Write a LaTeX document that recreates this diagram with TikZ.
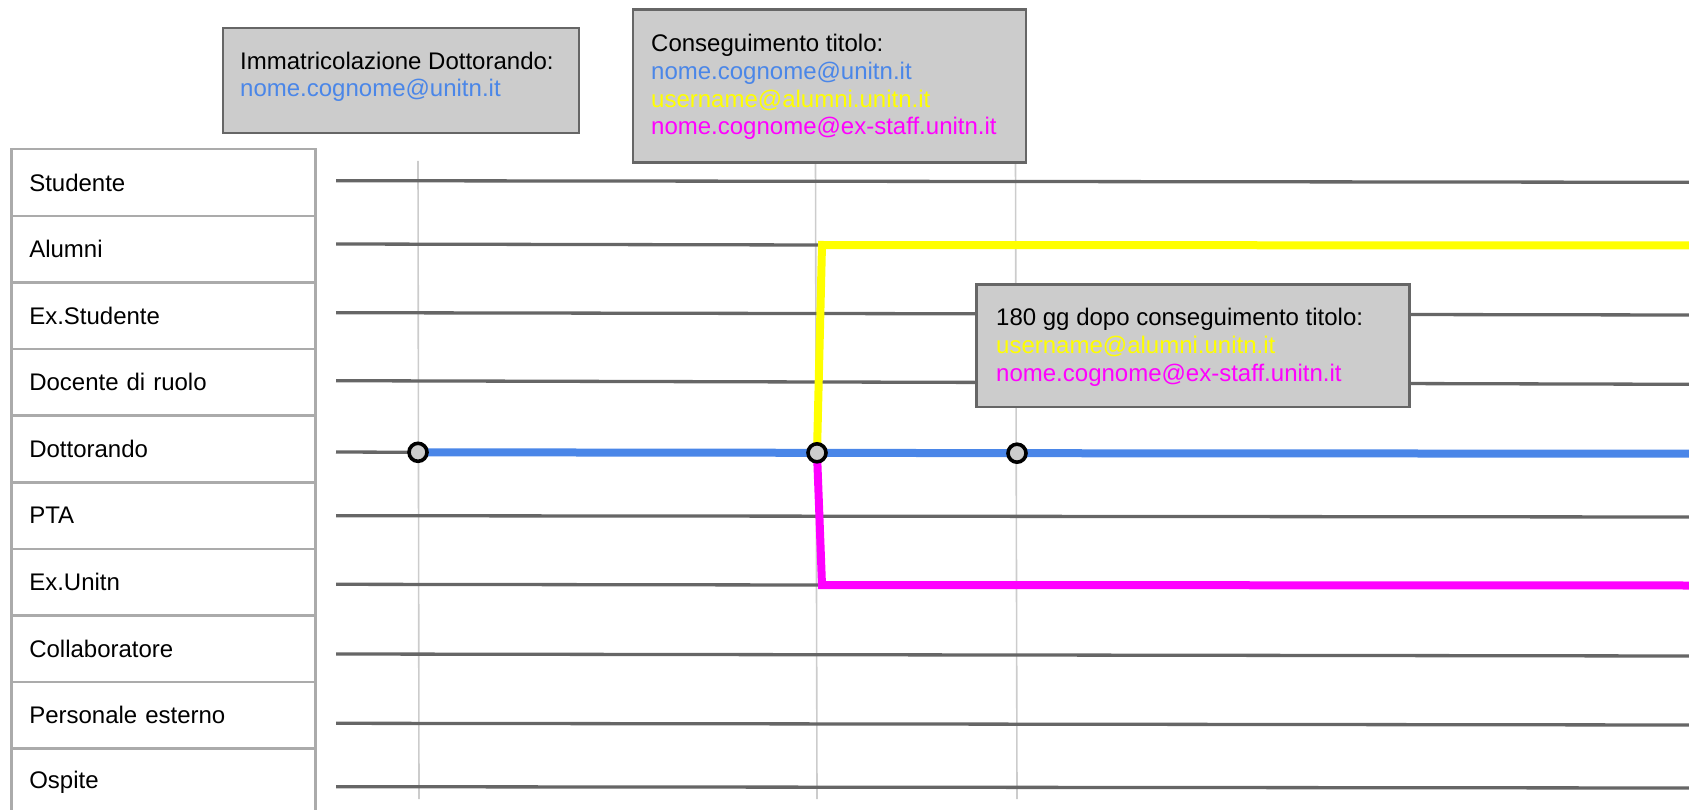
\documentclass[tikz,border=0pt]{standalone}
\usepackage{fontspec}
\setmainfont{Liberation Sans}
\definecolor{lanegray}{HTML}{666666}
\definecolor{tablegray}{HTML}{ABABAB}
\definecolor{thingray}{HTML}{CCCCCC}
\definecolor{boxfill}{HTML}{CCCCCC}
\definecolor{boxline}{HTML}{666666}
\definecolor{mblue}{HTML}{4A86E8}
\definecolor{myellow}{HTML}{FFFF00}
\definecolor{mmagenta}{HTML}{FF00FF}
\begin{document}
\begin{tikzpicture}[x=1pt,y=-1pt,
  txt/.style={font=\fontsize{24}{28}\selectfont, inner sep=0pt, anchor=base west},
  cell/.style={draw=tablegray, line width=2.5pt, minimum width=304pt, minimum height=66.6pt,
    anchor=north west, text width=268pt, align=left, inner xsep=18pt, inner ysep=0pt,
    font=\fontsize{24}{28}\selectfont},
  gbox/.style={draw=boxline, fill=boxfill, line width=2.5pt, inner sep=0pt},
  lane/.style={draw=lanegray, line width=3.3pt},
  thin/.style={draw=thingray, line width=1.6pt},
  fat/.style={line width=8pt},
  dot/.style={circle, draw=black, fill=boxfill, line width=3.6pt, minimum size=18pt, inner sep=0pt}
]
\useasboundingbox (0,0) rectangle (1689,810);

% table rows
\foreach \k/\t in {0/Studente,1/Alumni,2/Ex.Studente,3/Docente di ruolo,4/Dottorando,5/PTA,6/Ex.Unitn,7/Collaboratore,8/Personale esterno,9/Ospite}{
  \node[cell] (r\k) at (10,{148+66.6*\k}) {\t};
}

% thin vertical time markers
\coordinate (v1t) at (418,161);   \coordinate (v1b) at (419,799);
\coordinate (v2t) at (815.5,161); \coordinate (v2b) at (817,799);
\coordinate (v3t) at (1015.5,161);\coordinate (v3b) at (1017,799);
\draw[thin] (v1t) -- (v1b);
\draw[thin] (v2t) -- (v2b);
\draw[thin] (v3t) -- (v3b);

% event positions
\coordinate (p1) at (418,452.3);
\coordinate (p2) at (817,452.8);
\coordinate (p3) at (1017,453.2);
\coordinate (ycorner) at (822,245);
\coordinate (mcorner) at (822,585);
\coordinate (yend) at (1689,245.5);
\coordinate (mend) at (1689,585.5);
\coordinate (bend) at (1689,453.7);

% gray lanes
\draw[lane] (336,180.7) -- (1689,182.3);
\draw[lane] (336,244) -- (ycorner);
\draw[lane] (336,312.7) -- (1689,315);
\draw[lane] (336,380.7) -- (1689,384.3);
\draw[lane] (336,452) -- (p1);
\draw[lane] (336,515.7) -- (1689,517);
\draw[lane] (336,584.3) -- (mcorner);
\draw[lane] (336,654) -- (1689,656);
\draw[lane] (336,723.3) -- (1689,725);
\draw[lane] (336,786.7) -- (1689,788);

% coloured paths
\draw[fat, mblue] (p1) -- (p2) -- (p3) -- (bend);
\draw[fat, myellow, line join=miter] (p2) -- (ycorner) -- (yend);
\draw[fat, mmagenta, line join=miter] (p2) -- (mcorner) -- (mend);

\node[dot] (c1) at (p1) {};
\node[dot] (c2) at (p2) {};
\node[dot] (c3) at (p3) {};

% boxes
\node[gbox, minimum width=356pt, minimum height=105pt] (box1) at (401,80.5) {};
\node[txt] (b1l1) at (240,70) {Immatricolazione Dottorando:};
\node[txt, text=mblue] (b1l2) at (240,97) {nome.cognome@unitn.it};

\node[gbox, minimum width=393pt, minimum height=153pt] (box2) at (829.3,85.8) {};
\node[txt] (b2l1) at (651,51.5) {Conseguimento titolo:};
\node[txt, text=mblue] (b2l2) at (651,79.5) {nome.cognome@unitn.it};
\node[txt, text=myellow] (b2l3) at (651,107.5) {username@alumni.unitn.it};
\node[txt, text=mmagenta] (b2l4) at (651,135) {nome.cognome@ex-staff.unitn.it};

\node[gbox, minimum width=432.6pt, minimum height=122.7pt] (box3) at (1193,345.7) {};
\node[txt] (b3l1) at (996,326) {180 gg dopo conseguimento titolo:};
\node[txt, text=myellow] (b3l2) at (996,353.5) {username@alumni.unitn.it};
\node[txt, text=mmagenta] (b3l3) at (996,381) {nome.cognome@ex-staff.unitn.it};
\end{tikzpicture}
\end{document}
